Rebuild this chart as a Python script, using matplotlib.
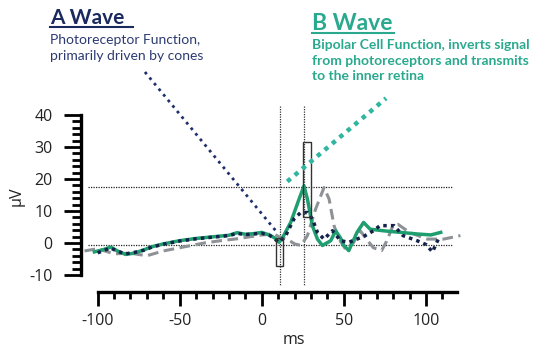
import matplotlib
matplotlib.use("Agg")
import matplotlib.pyplot as plt
from matplotlib.patches import Rectangle
import numpy as np

plt.rcParams["axes.unicode_minus"] = False

# ERG traces (ms, uV)
green_x = [-102, -96, -92, -88, -83, -78, -72, -67, -60, -50, -40, -30, -20, -15, -10, -5, 0, 5, 8, 10.5,
           13, 17.6, 22.7, 25.7, 27.8, 30.8, 33.9, 36.9, 42, 45, 48, 50, 53, 58, 62, 66, 74, 84.5, 94.6, 103, 109]
green_y = [-2.8, -2.0, -1.3, -2.5, -3.6, -3.2, -2.2, -1.2, -0.3, 0.7, 1.4, 1.9, 2.4, 3.2, 2.7, 2.9, 3.3, 2.4, 1.5, 0.2,
           2.0, 6.4, 13.7, 17.8, 13.7, 5.4, 1.2, -0.8, 0.7, 3.8, 1.5, -0.8, -2.4, 3.3, 6.4, 4.3, 3.8, 3.3, 2.8, 2.5, 3.3]

navy_x = [-100, -96, -92, -88, -83, -78, -72, -67, -60, -50, -40, -30, -20, -15, -10, -5, 0, 5, 10.5, 14.6,
          19.6, 23.7, 27.8, 30.8, 33.9, 37.9, 43, 48, 53, 58, 62, 68, 72, 80.5, 86, 94.6, 100, 104, 107.8]
navy_y = [-3.1, -2.3, -1.6, -2.6, -3.4, -3.0, -2.3, -1.3, -0.4, 0.6, 1.3, 1.8, 2.3, 3.0, 2.6, 2.8, 3.0, 2.3, 0.2, 2.3,
          7.5, 9.5, 9.5, 7.5, 3.3, 1.2, 3.8, 0.7, 0.2, 1.2, 2.0, 3.8, 5.4, 5.4, 2.3, 0.7, -0.5, -2.8, 1.5]

gray_x = [-108, -100, -90, -80, -70, -60, -50, -43, -35, -25, -15, -8.7, 0, 7.3, 11, 16, 20, 24, 27.8,
          32.8, 37.9, 41, 44, 47, 51, 56, 60, 64, 68, 73, 76, 80, 83, 90, 100.7, 110.8, 121]
gray_y = [-2.5, -1.8, -3.4, -3.2, -4.0, -2.5, -1.5, -0.8, 0.0, 0.7, 1.3, 1.8, 2.5, 2.8, 1.8, 1.0, -0.3, -0.8, 2.3,
          10.6, 17.3, 13.7, 5.4, 1.2, -1.9, 0.2, 3.8, 1.0, -1.5, -2.4, 0.5, 5.5, 5.8, 3.3, 1.2, 1.2, 2.3]

# reference markers
h_levels = [17.5, -0.8]
v_times = [11.1, 26.0]
a_box = (8.9, -7.1, 4.0, 8.7)      # x, y, w, h
b_box = (25.1, 8.0, 4.9, 23.5)
a_pointer = ([-71.2, 9.0], [53.4, 3.5])
b_pointer = ([15.5, 75.7], [19.2, 45.2])

navy = "#1b2a5e"
teal = "#2aa98f"
green = "#1f9e70"
grey = "#8e9296"

fig = plt.figure(figsize=(5.52, 3.54), dpi=100)
ax = fig.add_axes([0, 0, 1, 1])
ax.set_xlim(-159.5, 176.8)
ax.set_ylim(-34.7, 75.9)

ax.plot(gray_x, gray_y, color=grey, lw=2.2, ls=(0, (3.5, 1.8)), zorder=3)
ax.plot(green_x, green_y, color=green, lw=2.5, zorder=4)
ax.plot(navy_x, navy_y, color="#14224a", lw=2.5, ls=(0, (1, 1.2)), zorder=5)

for y in h_levels:
    ax.plot([-105.8, 116], [y, y], color="#222222", lw=0.9, ls=(0, (1, 1)), zorder=2)
for x in v_times:
    ax.plot([x, x], [42.8, -13.1], color="#333333", lw=0.9, ls=(0, (1, 1)), zorder=2)

for bx, by, bw, bh in [a_box, b_box]:
    ax.add_patch(Rectangle((bx, by), bw, bh, fill=False, ec="#333333", lw=1.0, zorder=6))

ax.plot(*a_pointer, color="#1f2f6e", lw=2.0, ls=(0, (1, 1.6)), zorder=6)
ax.plot(*b_pointer, color="#2fb5a0", lw=3.2, ls=(0, (1, 1.2)), zorder=6)

# Prism-style detached axes
for s in ["top", "right"]:
    ax.spines[s].set_visible(False)
ax.spines["left"].set_position(("data", -110.1))
ax.spines["left"].set_bounds(-10, 40)
ax.spines["bottom"].set_position(("data", -15.3))
ax.spines["bottom"].set_bounds(-100, 119)
ax.spines["left"].set_linewidth(2.4)
ax.spines["bottom"].set_linewidth(2.4)

ax.set_yticks([-10, 0, 10, 20, 30, 40])
ax.set_yticks(np.arange(-10, 41, 2), minor=True)
ax.set_xticks([-100, -50, 0, 50, 100])
ax.set_xticks(np.arange(-100, 111, 10), minor=True)
ax.tick_params(axis="y", which="major", direction="out", length=12.5, width=2.0, pad=8)
ax.tick_params(axis="y", which="minor", direction="out", length=6.5, width=2.0)
ax.tick_params(axis="x", which="major", direction="out", length=10, width=2.0, pad=5)
ax.tick_params(axis="x", which="minor", direction="out", length=5, width=2.0)
for lab in ax.get_xticklabels() + ax.get_yticklabels():
    lab.set_fontfamily("Open Sans")
    lab.set_fontsize(11.5)
    lab.set_color("#222222")

ax.text(-149.5, 14.7, "µV", rotation=90, ha="center", va="center", fontsize=11.5, family="Open Sans", color="#222222")
ax.text(19.5, -30.3, "ms", ha="center", va="center", fontsize=11.5, family="Open Sans", color="#222222")

# annotations
W, H = 552, 354
def ftext(x, y, s, **kw):
    return fig.text(x / W, 1 - y / H, s, va="baseline", ha="left", family="Lato", **kw)

ftext(50, 24.5, "A Wave", fontsize=15, fontweight="bold", color=navy)
fig.add_artist(plt.Line2D([50 / W, 133 / W], [1 - 26.8 / H, 1 - 26.8 / H], color=navy, lw=1.5))
ftext(50, 43.5, "Photoreceptor Function,", fontsize=10, color="#2c3a72")
ftext(50, 59.5, "primarily driven by cones", fontsize=10, color="#2c3a72")

ftext(312.5, 30, "B Wave", fontsize=16.5, fontweight="bold", color=teal)
fig.add_artist(plt.Line2D([312 / W, 394 / W], [1 - 33 / H, 1 - 33 / H], color=teal, lw=1.5))
ftext(312.5, 49.3, "Bipolar Cell Function, inverts signal", fontsize=10, fontweight="bold", color=teal)
ftext(312.5, 64.8, "from photoreceptors and transmits", fontsize=10, fontweight="bold", color=teal)
ftext(312.5, 80.3, "to the inner retina", fontsize=10, fontweight="bold", color=teal)

fig.savefig("out.png", dpi=100)
